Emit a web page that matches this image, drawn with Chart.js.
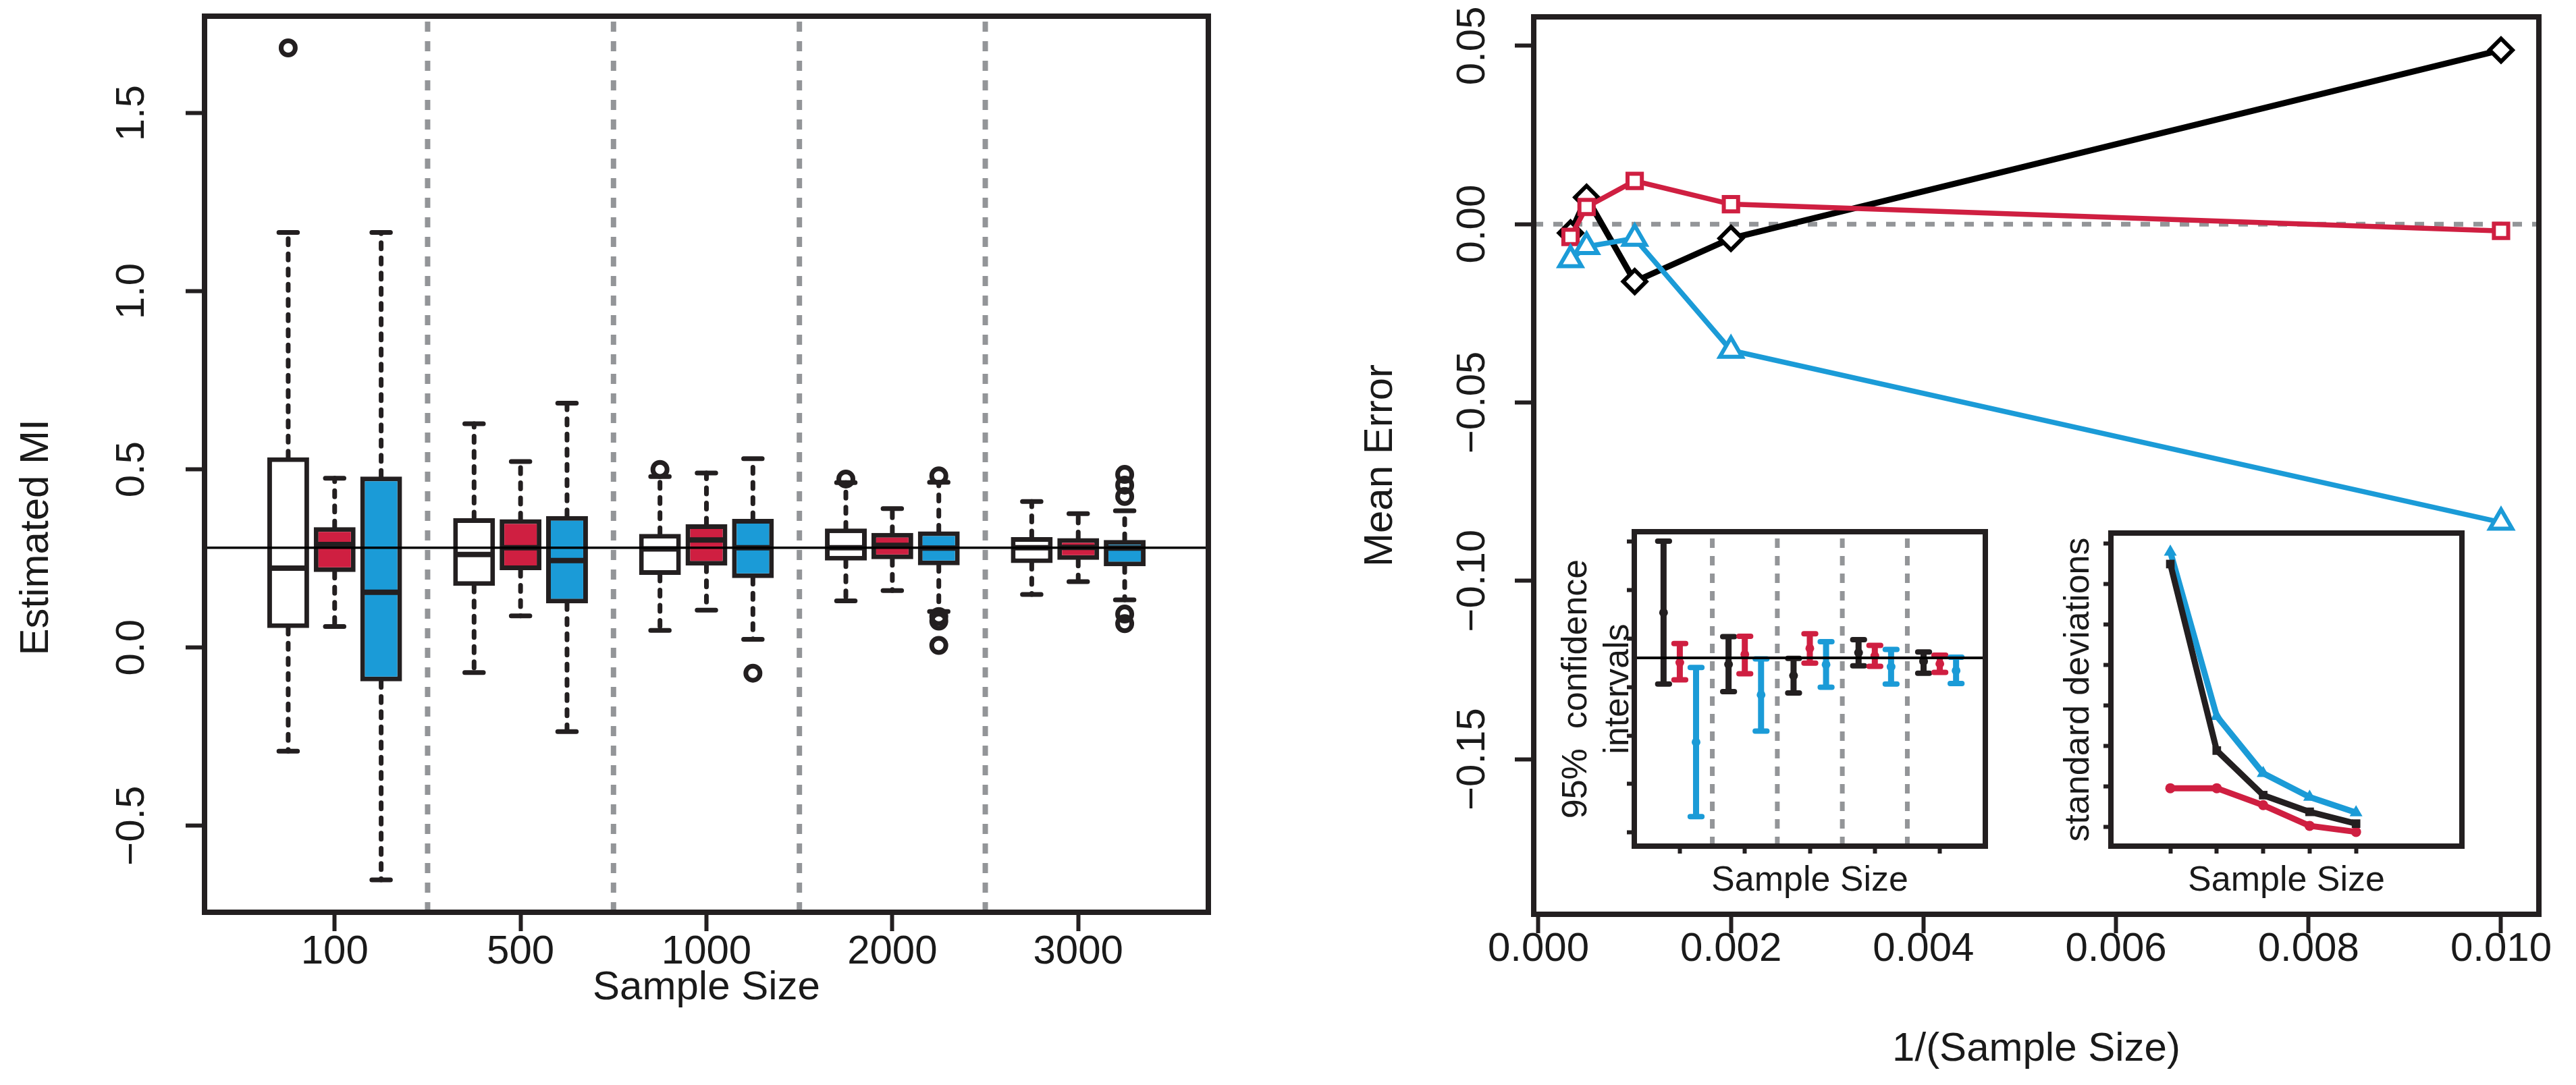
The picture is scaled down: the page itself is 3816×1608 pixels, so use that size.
<!DOCTYPE html>
<html>
<head>
<meta charset="utf-8">
<title>Estimated MI and mean error by sample size</title>
<script src="https://cdn.jsdelivr.net/npm/chart.js@4.4.1/dist/chart.umd.min.js"></script>
<style>
  html, body { margin: 0; padding: 0; background: #fff; }
  #page { position: relative; width: 3816px; height: 1608px; overflow: hidden; background: #fff; }
  canvas { position: absolute; }
</style>
</head>
<body>
<div id="page">
  <canvas id="boxChart" width="1850" height="1608" style="left:0;top:0"></canvas>
  <canvas id="errorChart" width="1826" height="1608" style="left:1990px;top:0"></canvas>
  <canvas id="ciChart" width="680" height="600" style="left:2300px;top:760px"></canvas>
  <canvas id="sdChart" width="680" height="600" style="left:3000px;top:760px"></canvas>
</div>
<script>
// ---------- values ----------
var sampleSizes = [100, 500, 1000, 2000, 3000];
var trueMI = 0.28;

// box plot stats, per sample size: white, red, blue
var boxLow  = [-0.291, 0.059, -0.652, -0.070, 0.089, -0.236, 0.048, 0.105, 0.023, 0.131, 0.160, 0.101, 0.149, 0.185, 0.134];
var boxQ1   = [0.055, 0.212, -0.095, 0.173, 0.217, 0.124, 0.204, 0.230, 0.195, 0.244, 0.248, 0.231, 0.237, 0.246, 0.228];
var boxMed  = [0.223, 0.289, 0.155, 0.261, 0.280, 0.244, 0.277, 0.302, 0.280, 0.280, 0.287, 0.279, 0.280, 0.281, 0.279];
var boxQ3   = [0.534, 0.338, 0.480, 0.363, 0.360, 0.369, 0.319, 0.346, 0.361, 0.334, 0.322, 0.326, 0.310, 0.307, 0.302];
var boxHigh = [1.165, 0.475, 1.165, 0.628, 0.522, 0.686, 0.480, 0.490, 0.530, 0.463, 0.390, 0.464, 0.410, 0.376, 0.384];
// outliers: which box they belong to, and their value
var outlierBox   = [0, 6, 8, 9, 11, 11, 11, 11, 14, 14, 14, 14, 14];
var outlierValue = [1.683, 0.500, -0.072, 0.473, 0.482, 0.087, 0.074, 0.006, 0.486, 0.456, 0.424, 0.094, 0.067];

// mean error against 1/(sample size)
var meanErrorBlack = [0.0488, -0.0040, -0.0161, 0.0075, -0.0025];
var meanErrorRed   = [-0.0019, 0.0056, 0.0121, 0.0048, -0.0036];
var meanErrorBlue  = [-0.0836, -0.0354, -0.0040, -0.0063, -0.0100];

// inset: 95% confidence intervals
var ciMeanBlack = [0.3266, 0.2733, 0.2617, 0.2853, 0.2764];
var ciLowBlack  = [0.2530, 0.2452, 0.2439, 0.2718, 0.2642];
var ciHighBlack = [0.4003, 0.3018, 0.2794, 0.2987, 0.2860];
var ciMeanRed   = [0.2751, 0.2835, 0.2898, 0.2820, 0.2739];
var ciLowRed    = [0.2574, 0.2637, 0.2746, 0.2713, 0.2650];
var ciHighRed   = [0.2947, 0.3023, 0.3048, 0.2929, 0.2827];
var ciMeanBlue  = [0.1931, 0.2419, 0.2731, 0.2708, 0.2668];
var ciLowBlue   = [0.1165, 0.2046, 0.2497, 0.2530, 0.2536];
var ciHighBlue  = [0.2700, 0.2790, 0.2967, 0.2886, 0.2807];

// inset: standard deviations
var sdBlack = [0.375, 0.1445, 0.0894, 0.0688, 0.0542];
var sdRed   = [0.098, 0.098, 0.077, 0.0515, 0.044];
var sdBlue  = [0.390, 0.187, 0.1164, 0.087, 0.0679];

// ticks
var miTicks = [-0.5, 0, 0.5, 1.0, 1.5];
var errorTicks = [-0.15, -0.10, -0.05, 0, 0.05];
var invSizeTicks = [0, 0.002, 0.004, 0.006, 0.008, 0.010];
var ciTicks = [0.10, 0.15, 0.20, 0.25, 0.30, 0.35, 0.40];
var sdTicks = [0.05, 0.10, 0.15, 0.20, 0.25, 0.30, 0.35, 0.40];

// axis limits
var boxXRange = [-0.8, 20.8], boxYRange = [-0.743, 1.772];
var errXRange = [-0.000049, 0.010393], errYRange = [-0.1935, 0.0581];
var ciXRange = [0.3, 5.7], ciYRange = [0.086, 0.410];
var sdXRange = [-0.28, 7.28], sdYRange = [0.0264, 0.4133];

// ---------- styling ----------
var INK = '#231f20', RED = '#cf1f41', BLUE = '#1b9bd7', GREY = '#939598';
var boxFill = ['#ffffff', RED, BLUE];
var FONT = "'Liberation Sans', Arial, Helvetica, sans-serif";
var NBSP = '\u00a0';

Chart.defaults.font.family = FONT;
Chart.defaults.color = '#1a1a1a';

// number format with a real minus sign
function fmt(v, d) {
  var s = Math.abs(v).toFixed(d);
  return v < -1e-12 ? '\u2212' + s : s;
}

// tick padding so rotated y labels end up centred at the wanted distance
function labelPad(gap, labels, size) {
  var ctx = document.createElement('canvas').getContext('2d');
  ctx.font = size + 'px ' + FONT;
  var widest = 0;
  labels.forEach(function (t) { widest = Math.max(widest, ctx.measureText(t).width); });
  return gap - widest / 2;
}

// x position of box i (three boxes per sample size, one gap between groups)
function boxPos(i) { return Math.floor(i / 3) * 4 + (i % 3) + 1; }

// turn [x1, y1, x2, y2] pieces into one broken line
function pieces(list) {
  var pts = [];
  list.forEach(function (p) {
    pts.push({ x: p[0], y: p[1] }, { x: p[2], y: p[3] }, { x: p[2], y: null });
  });
  return pts;
}

function segLine(label, list, color, width, extra) {
  return Object.assign({
    type: 'line', label: label, data: pieces(list), borderColor: color, borderWidth: width,
    pointRadius: 0, spanGaps: false, fill: false, tension: 0
  }, extra || {});
}

// frame round the plot region, plus optional white fill for the insets
var framePlugin = {
  id: 'frame',
  beforeDraw: function (chart, args, opts) {
    if (!opts.fill) return;
    var a = chart.chartArea, ctx = chart.ctx;
    ctx.save();
    ctx.fillStyle = '#fff';
    ctx.fillRect(a.left, a.top, a.right - a.left, a.bottom - a.top);
    ctx.restore();
  },
  afterDatasetsDraw: function (chart, args, opts) {
    var a = chart.chartArea, ctx = chart.ctx;
    ctx.save();
    ctx.strokeStyle = INK;
    ctx.lineWidth = opts.width || 7;
    ctx.strokeRect(a.left, a.top, a.right - a.left, a.bottom - a.top);
    ctx.restore();
  }
};

function axis(range, tickValues, extra) {
  return Object.assign({
    type: 'linear', min: range[0], max: range[1], offset: false,
    border: { display: false },
    grid: { display: true, drawOnChartArea: false, drawTicks: true, tickLength: 28, tickWidth: 6,
            tickColor: INK, color: INK, offset: false },
    afterBuildTicks: function (s) { s.ticks = tickValues.map(function (v) { return { value: v }; }); }
  }, extra);
}

// fixed scale sizes, and no extra room reserved for labels at the ends
function fixHeight(h) {
  return function (s) { s.height = h; s.paddingLeft = 0; s.paddingRight = 0; };
}
function fixWidth(w) {
  return function (s) { s.width = w; s.paddingTop = 0; s.paddingBottom = 0; };
}

var baseOptions = {
  responsive: false, devicePixelRatio: 1, animation: false, events: [],
  plugins: { legend: { display: false }, tooltip: { enabled: false } }
};

// ---------- left panel: box plots ----------
var sepList = [], whiskerList = [], stapleList = [], medianList = [];
for (var g = 1; g < sampleSizes.length; g++) sepList.push([g * 4, boxYRange[0], g * 4, boxYRange[1]]);
boxQ1.forEach(function (q1, i) {
  var p = boxPos(i);
  whiskerList.push([p, boxQ3[i], p, boxHigh[i]], [p, q1, p, boxLow[i]]);
  stapleList.push([p - 0.2, boxHigh[i], p + 0.2, boxHigh[i]], [p - 0.2, boxLow[i], p + 0.2, boxLow[i]]);
  medianList.push([p - 0.4, boxMed[i], p + 0.4, boxMed[i]]);
});

var miLabels = miTicks.map(function (v) { return fmt(v, 1); });

new Chart(document.getElementById('boxChart'), {
  type: 'bar',
  data: {
    datasets: [
      segLine('separators', sepList, GREY, 8, { borderDash: [15, 14], order: 6 }),
      segLine('whiskers', whiskerList, INK, 7, { borderDash: [9, 13.5], borderCapStyle: 'round', order: 5 }),
      segLine('staples', stapleList, INK, 7, { borderCapStyle: 'round', order: 4 }),
      {
        type: 'bar', label: 'boxes',
        data: boxQ1.map(function (q1, i) { return { x: boxPos(i), y: [q1, boxQ3[i]] }; }),
        backgroundColor: boxQ1.map(function (q1, i) { return boxFill[i % 3]; }),
        borderColor: INK, borderWidth: 7, borderSkipped: false,
        barPercentage: 0.9, categoryPercentage: 1, order: 3
      },
      segLine('medians', medianList, INK, 8, { order: 2 }),
      segLine('true MI', [[boxXRange[0], trueMI, boxXRange[1], trueMI]], '#000', 3.5, { order: 1 }),
      {
        type: 'scatter', label: 'outliers',
        data: outlierBox.map(function (b, k) { return { x: boxPos(b), y: outlierValue[k] }; }),
        pointStyle: 'circle', pointRadius: 10.5, pointBorderWidth: 7,
        pointBorderColor: INK, pointBackgroundColor: 'rgba(0,0,0,0)', order: 0
      }
    ]
  },
  options: Object.assign({}, baseOptions, {
    layout: { padding: { left: 0, top: 24, right: 60, bottom: 0 } },
    plugins: Object.assign({}, baseOptions.plugins, { frame: { width: 8 } }),
    scales: {
      x: axis(boxXRange, sampleSizes.map(function (n, i) { return i * 4 + 2; }), {
        ticks: { autoSkip: false, maxRotation: 0, padding: -5, font: { size: 60 },
                 callback: function (v, i) { return String(sampleSizes[i]); } },
        title: { display: true, text: 'Sample Size', font: { size: 60 }, padding: { top: 0, bottom: 108 } },
        afterFit: fixHeight(256)
      }),
      y: axis(boxYRange, miTicks, {
        ticks: { minRotation: 90, maxRotation: 90, crossAlign: 'center', font: { size: 60 },
                 padding: labelPad(79, miLabels, 60),
                 callback: function (v) { return fmt(v, 1); } },
        // trailing spaces sit the label a little below the middle, as in the original
        title: { display: true, text: 'Estimated MI' + NBSP.repeat(13), font: { size: 60 },
                 padding: { top: 18, bottom: 0 } },
        afterFit: fixWidth(303)
      })
    }
  }),
  plugins: [framePlugin]
});

// ---------- right panel: mean error ----------
var invSize = sampleSizes.map(function (n) { return 1 / n; });
function errSeries(label, values, color, style, radius, width, order) {
  return {
    type: 'line', label: label,
    data: values.map(function (v, i) { return { x: invSize[i], y: v }; }),
    borderColor: color, borderWidth: width, borderJoinStyle: 'round',
    pointStyle: style, pointRadius: radius, pointBorderWidth: 6,
    pointBorderColor: color, pointBackgroundColor: '#fff', tension: 0, fill: false, order: order
  };
}
var errLabels = errorTicks.map(function (v) { return fmt(v, 2); });

new Chart(document.getElementById('errorChart'), {
  type: 'line',
  data: {
    datasets: [
      segLine('zero', [[errXRange[0], 0, errXRange[1], 0]], GREY, 7, { borderDash: [14, 15], order: 4 }),
      errSeries('black', meanErrorBlack, '#000', 'rectRot', 17, 9, 3),
      errSeries('red', meanErrorRed, RED, 'rect', 15, 7.5, 2),
      errSeries('blue', meanErrorBlue, BLUE, 'triangle', 19, 7.5, 1)
    ]
  },
  options: Object.assign({}, baseOptions, {
    layout: { padding: { left: 0, top: 23, right: 55, bottom: 0 } },
    plugins: Object.assign({}, baseOptions.plugins, { frame: { width: 8 } }),
    scales: {
      x: axis(errXRange, invSizeTicks, {
        ticks: { autoSkip: false, maxRotation: 0, padding: -12, font: { size: 60 },
                 callback: function (v) { return v.toFixed(3); } },
        title: { display: true, text: '1/(Sample Size)', font: { size: 60 }, padding: { top: 0, bottom: 17 } },
        afterFit: fixHeight(253)
      }),
      y: axis(errYRange, errorTicks, {
        ticks: { minRotation: 90, maxRotation: 90, crossAlign: 'center', font: { size: 60 },
                 padding: labelPad(62, errLabels, 60),
                 callback: function (v) { return fmt(v, 2); } },
        title: { display: true, text: 'Mean Error', font: { size: 60 }, padding: { top: 19, bottom: 0 } },
        afterFit: fixWidth(282)
      })
    }
  }),
  plugins: [framePlugin]
});

// ---------- inset: confidence intervals ----------
var insetTicks = sampleSizes.map(function (n, i) { return i + 1; });
function ciSets(label, color, shift, lows, means, highs, order) {
  var bars = [], caps = [];
  lows.forEach(function (lo, i) {
    var x = i + 1 + shift;
    bars.push([x, lo, x, highs[i]]);
    caps.push([x - 0.09, lo, x + 0.09, lo], [x - 0.09, highs[i], x + 0.09, highs[i]]);
  });
  return [
    segLine(label + ' interval', bars, color, 9, { order: order }),
    segLine(label + ' caps', caps, color, 8, { borderCapStyle: 'round', order: order }),
    {
      type: 'scatter', label: label + ' mean',
      data: means.map(function (m, i) { return { x: i + 1 + shift, y: m }; }),
      pointRadius: 6.5, pointBorderWidth: 0, pointBackgroundColor: color, order: order
    }
  ];
}
var ciSep = [];
for (var k = 1; k < sampleSizes.length; k++) ciSep.push([k + 0.5, ciYRange[0], k + 0.5, ciYRange[1]]);

function insetAxes(xRange, yRange, yTicks, yTitle, yTitlePad, yWidth) {
  var small = { display: true, drawOnChartArea: false, drawTicks: true, tickLength: 11, tickWidth: 6,
                tickColor: INK, color: INK, offset: false };
  return {
    x: axis(xRange, insetTicks, {
      grid: small, ticks: { display: false },
      title: { display: true, text: 'Sample Size', font: { size: 52 }, padding: { top: 0, bottom: 23 } },
      afterFit: fixHeight(106)
    }),
    y: axis(yRange, yTicks, {
      grid: small, ticks: { display: false },
      title: { display: true, text: yTitle, font: { size: 52 }, padding: { top: yTitlePad, bottom: 0 } },
      afterFit: fixWidth(yWidth)
    })
  };
}

new Chart(document.getElementById('ciChart'), {
  type: 'line',
  data: {
    datasets: [segLine('separators', ciSep, GREY, 7, { borderDash: [14, 12], order: 9 })]
      .concat(ciSets('black', INK, -0.25, ciLowBlack, ciMeanBlack, ciHighBlack, 3))
      .concat(ciSets('red', RED, 0, ciLowRed, ciMeanRed, ciHighRed, 2))
      .concat(ciSets('blue', BLUE, 0.25, ciLowBlue, ciMeanBlue, ciHighBlue, 1))
      .concat([segLine('true MI', [[ciXRange[0], trueMI, ciXRange[1], trueMI]], '#000', 4, { order: 0 })])
  },
  options: Object.assign({}, baseOptions, {
    layout: { padding: { left: 0, top: 28, right: 39, bottom: 0 } },
    plugins: Object.assign({}, baseOptions.plugins, { frame: { width: 8, fill: true } }),
    scales: insetAxes(ciXRange, ciYRange, ciTicks, ['95%  confidence', 'intervals'], 4, 121)
  }),
  plugins: [framePlugin]
});

// ---------- inset: standard deviations ----------
function sdSeries(label, values, color, style, radius, order) {
  return {
    type: 'line', label: label,
    data: values.map(function (v, i) { return { x: i + 1, y: v }; }),
    borderColor: color, borderWidth: 9, borderJoinStyle: 'round',
    pointStyle: style, pointRadius: radius, pointBorderWidth: 0,
    pointBackgroundColor: color, tension: 0, fill: false, order: order
  };
}

new Chart(document.getElementById('sdChart'), {
  type: 'line',
  data: {
    datasets: [
      sdSeries('blue', sdBlue, BLUE, 'triangle', 11, 3),
      sdSeries('red', sdRed, RED, 'circle', 7.5, 2),
      sdSeries('black', sdBlack, INK, 'rect', 9, 1)
    ]
  },
  options: Object.assign({}, baseOptions, {
    layout: { padding: { left: 0, top: 30, right: 33, bottom: 0 } },
    plugins: Object.assign({}, baseOptions.plugins, { frame: { width: 8, fill: true } }),
    scales: insetAxes(sdXRange, sdYRange, sdTicks, 'standard deviations', 48, 127)
  }),
  plugins: [framePlugin]
});
</script>
</body>
</html>
